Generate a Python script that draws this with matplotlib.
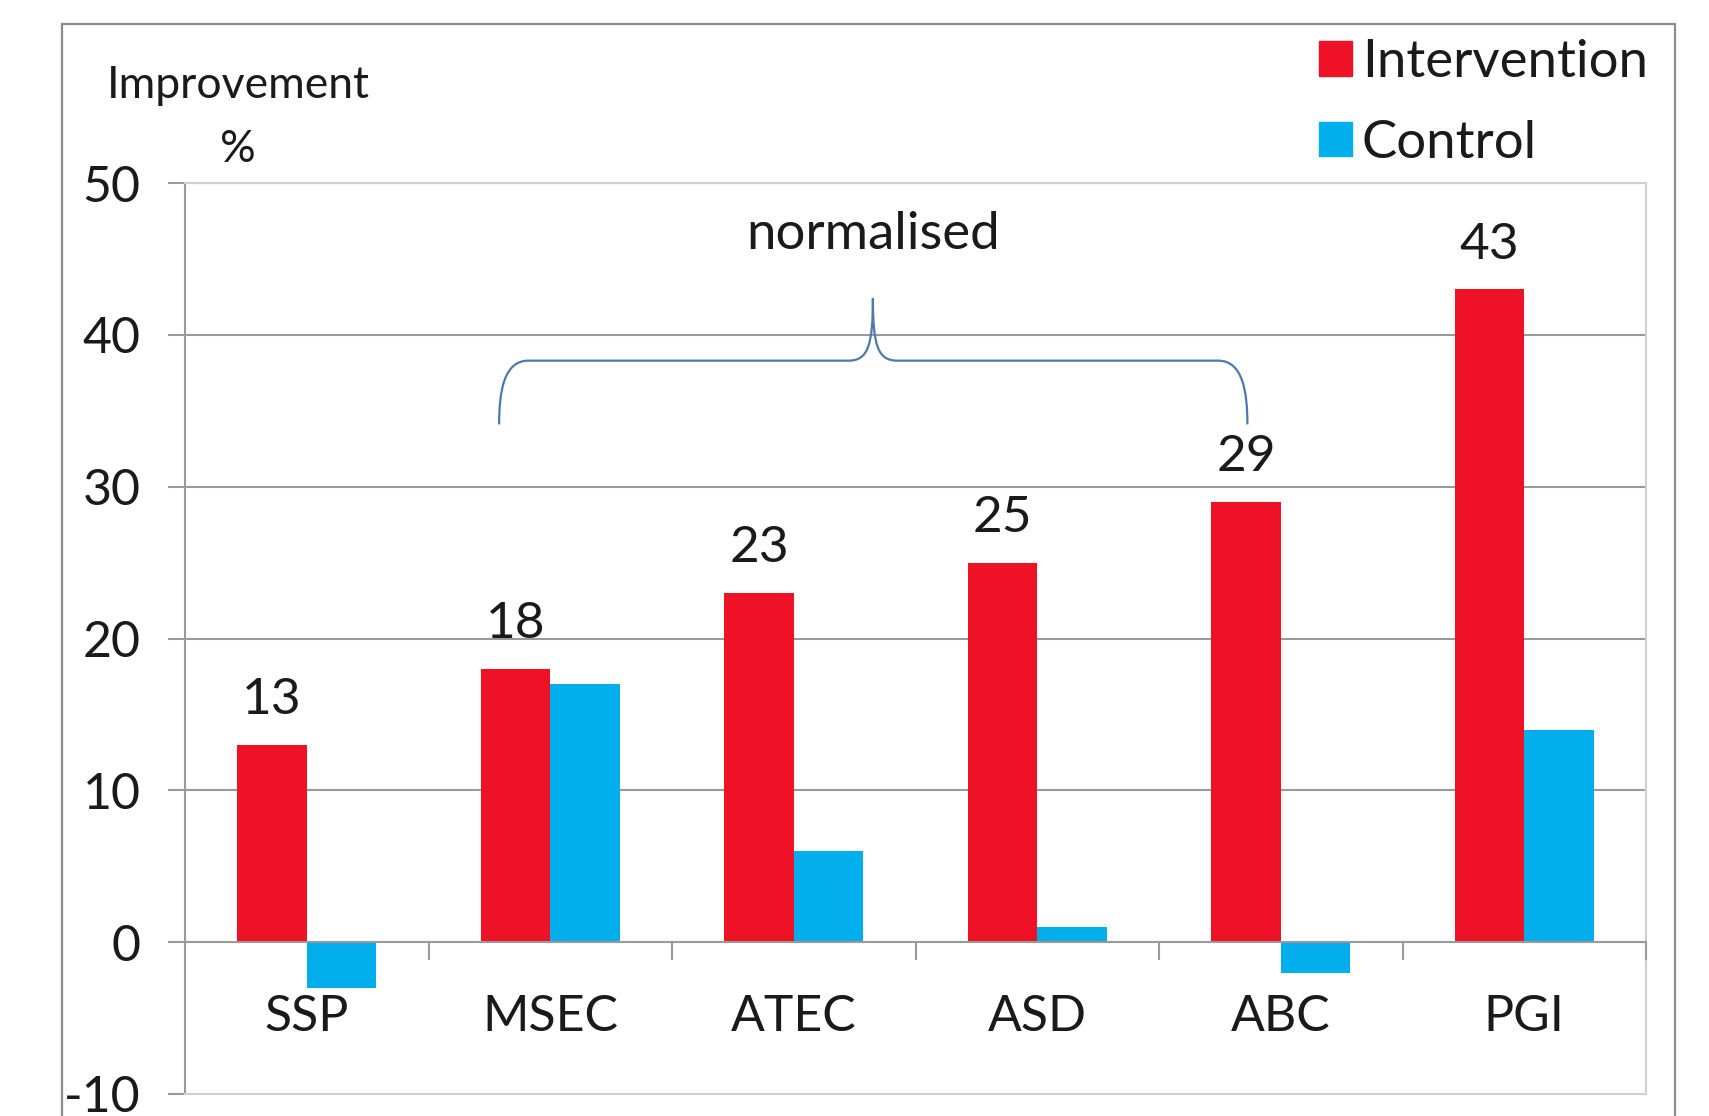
import matplotlib
matplotlib.use("Agg")
import matplotlib.pyplot as plt
from matplotlib.patches import Rectangle, PathPatch
from matplotlib.path import Path
import numpy as np

plt.rcParams['font.family'] = ['Lato', 'DejaVu Sans']

# Data
categories = ["SSP", "MSEC", "ATEC", "ASD", "ABC", "PGI"]
intervention = [13, 18, 23, 25, 29, 43]
control = [-3, 17, 6, 1, -2, 14]
y_ticks = [-10, 0, 10, 20, 30, 40, 50]

RED = '#EF1126'
BLUE = '#02AEEB'
GRID = '#9a9a9a'
TEXT = '#1a1a1a'

W, H = 1709, 1116
fig = plt.figure(figsize=(W / 100, H / 100), dpi=100)

# Outer chart frame
fig.patches.append(Rectangle((62 / W, -0.05), (1675 - 62) / W, 1.05 - 24 / H,
                             transform=fig.transFigure, fill=False,
                             edgecolor='#8c8c8c', linewidth=1.6))

ax = fig.add_axes([185 / W, 1 - 1094 / H, (1646 - 185) / W, (1094 - 183) / H])

x = np.arange(len(categories))
bw = 1 / 3.5
ax.bar(x - bw / 2, intervention, width=bw, color=RED, zorder=3, label="Intervention")
ax.bar(x + bw / 2, control, width=bw, color=BLUE, zorder=3, label="Control")

ax.set_xlim(-0.5, len(categories) - 0.5)
ax.set_ylim(-10, 50)

# Gridlines
for yv in y_ticks:
    if yv not in (-10, 0):
        ax.axhline(yv, color=GRID, linewidth=1.5, zorder=1)
ax.axhline(0, color=GRID, linewidth=1.5, zorder=4)

for side in ['top', 'right', 'bottom']:
    ax.spines[side].set_color('#d0d0d0')
    ax.spines[side].set_linewidth(1.5)
ax.spines['left'].set_color(GRID)
ax.spines['left'].set_linewidth(1.5)

ax.set_yticks(y_ticks)
ax.set_yticklabels([str(v) for v in y_ticks], fontsize=36, color=TEXT)
ax.tick_params(axis='y', length=12, width=1.5, color=GRID, pad=20)

# Category labels centred, boundary ticks hanging from the zero line
ax.set_xticks(x)
ax.set_xticklabels([])
ax.tick_params(axis='x', length=0)
for xi, name in zip(x, categories):
    ax.text(xi, -4.95, name, ha='center', va='center', fontsize=36, color=TEXT)
for b in np.arange(0.5, len(categories), 1.0):
    ax.plot([b, b], [0, -1.1], color=GRID, linewidth=1.5, zorder=4, clip_on=False)

# Value labels over the intervention bars
for xi, v in zip(x, intervention):
    ax.annotate(str(v), (xi - bw / 2, v), xytext=(0, 22), textcoords='offset points',
                ha='center', va='baseline', fontsize=37, color=TEXT)

# Brace marking the normalised measures
bl, bm, br = 0.79, 2.325, 3.863
y_end, y_bar, y_tip = 34.1, 38.3, 42.4
verts = [
    (bl, y_end), (bl, y_bar - 2.0), (bl + 0.02, y_bar), (bl + 0.12, y_bar),
    (bm - 0.1, y_bar),
    (bm - 0.02, y_bar), (bm, y_bar + 1.0), (bm, y_tip),
    (bm, y_bar + 1.0), (bm + 0.02, y_bar), (bm + 0.1, y_bar),
    (br - 0.12, y_bar),
    (br - 0.02, y_bar), (br, y_bar - 2.0), (br, y_end),
]
codes = [Path.MOVETO, Path.CURVE4, Path.CURVE4, Path.CURVE4,
         Path.LINETO,
         Path.CURVE4, Path.CURVE4, Path.CURVE4,
         Path.CURVE4, Path.CURVE4, Path.CURVE4,
         Path.LINETO,
         Path.CURVE4, Path.CURVE4, Path.CURVE4]
ax.add_patch(PathPatch(Path(verts, codes), fill=False, edgecolor='#4f79a8',
                       linewidth=1.6, zorder=5))
ax.text(bm, 46.6, "normalised", ha='center', va='center', fontsize=38, color=TEXT)

# Axis title
fig.text(238 / W, 1 - 86 / H, "Improvement", ha='center', va='center', fontsize=32, color=TEXT)
fig.text(238 / W, 1 - 149 / H, "%", ha='center', va='center', fontsize=32, color=TEXT)

# Legend
handles = [Rectangle((0, 0), 1, 1, color=RED), Rectangle((0, 0), 1, 1, color=BLUE)]
fig.legend(handles, ["Intervention", "Control"], loc='upper left',
           bbox_to_anchor=(1319 / W, 1 - 39 / H), frameon=False, fontsize=38,
           borderpad=0, borderaxespad=0,
           handlelength=0.62, handleheight=0.62, handletextpad=0.19,
           labelspacing=0.64, labelcolor=TEXT)

fig.savefig("out.png", dpi=100)
